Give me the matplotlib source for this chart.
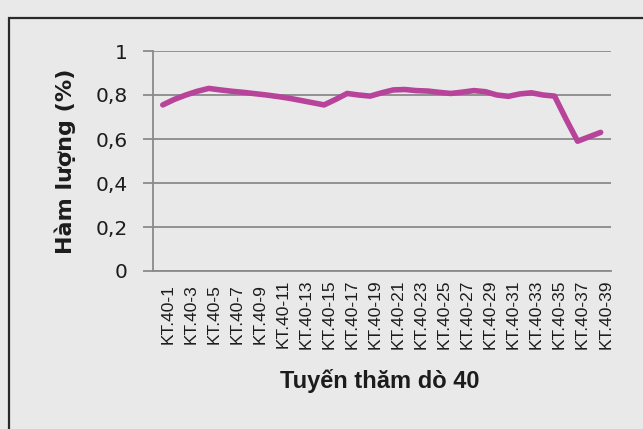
import matplotlib
matplotlib.use("Agg")
import matplotlib.pyplot as plt
from matplotlib.patches import Rectangle
from matplotlib.transforms import ScaledTranslation

# Sampling points along survey line 40 and measured content (%)
stations = [f"KT.40-{i}" for i in range(1, 40)]
content = [0.755, 0.78, 0.80, 0.817, 0.83, 0.823, 0.817, 0.812, 0.806, 0.80,
           0.793, 0.785, 0.775, 0.765, 0.755, 0.78, 0.807, 0.80, 0.795, 0.81,
           0.823, 0.825, 0.82, 0.818, 0.812, 0.807, 0.813, 0.82, 0.815, 0.80,
           0.794, 0.805, 0.81, 0.80, 0.795, 0.69, 0.59, 0.61, 0.63]
y_ticks = [0, 0.2, 0.4, 0.6, 0.8, 1.0]
y_tick_labels = ["0", "0,2", "0,4", "0,6", "0,8", "1"]

W, H = 643, 429
bg = "#e9e9e9"
grid_c = "#8a8a8a"
line_c = "#b8439b"
text_c = "#1c1c1c"

fig = plt.figure(figsize=(W / 100, H / 100), dpi=100, facecolor=bg)

# chart frame
fig.patches.append(Rectangle((9 / W, -0.05), 1.0, 1.05 - 18 / H,
                             transform=fig.transFigure, fill=False,
                             edgecolor="#2a2a2a", linewidth=1.6))

ax = fig.add_axes([153 / W, 1 - 271 / H, (611 - 153) / W, (271 - 51) / H])
ax.set_facecolor("none")

x = list(range(len(stations)))
ax.plot(x, content, color=line_c, linewidth=4.0, solid_capstyle="round",
        solid_joinstyle="round")

ax.set_ylim(0, 1)
ax.set_xlim(-0.85, 38.9)
ax.set_yticks(y_ticks)
ax.set_yticklabels(y_tick_labels, fontfamily="DejaVu Sans", fontsize=14.5,
                   color=text_c)
ax.yaxis.grid(True, color=grid_c, linewidth=1.3)
ax.set_axisbelow(True)

ax.set_xticks(x[::2])
ax.set_xticklabels(stations[::2], rotation=90, fontfamily="Liberation Sans",
                   fontsize=12.5, color=text_c)
ax.tick_params(axis="x", length=0, pad=31)
ax.tick_params(axis="y", length=7, width=1.3, color=grid_c, pad=11)
for lbl in ax.get_xticklabels():
    lbl.set_va("center")
    lbl.set_ha("center")
    lbl.set_transform(lbl.get_transform() +
                      ScaledTranslation(5 / 100, 0, fig.dpi_scale_trans))

for side in ("top", "right"):
    ax.spines[side].set_visible(False)
ax.spines["left"].set_color(grid_c)
ax.spines["left"].set_linewidth(1.3)
ax.spines["bottom"].set_color(grid_c)
ax.spines["bottom"].set_linewidth(1.3)

fig.text(65 / W, 1 - 161 / H, "Hàm lượng (%)", rotation=90, ha="center",
         va="center", fontfamily="DejaVu Sans", fontweight="bold",
         fontsize=16, color=text_c)
fig.text(380 / W, 1 - 388 / H, "Tuyến thăm dò 40", ha="center",
         va="baseline", fontfamily="Liberation Sans", fontweight="bold",
         fontsize=17, color=text_c)

fig.savefig("out.png", dpi=100, facecolor=bg)
